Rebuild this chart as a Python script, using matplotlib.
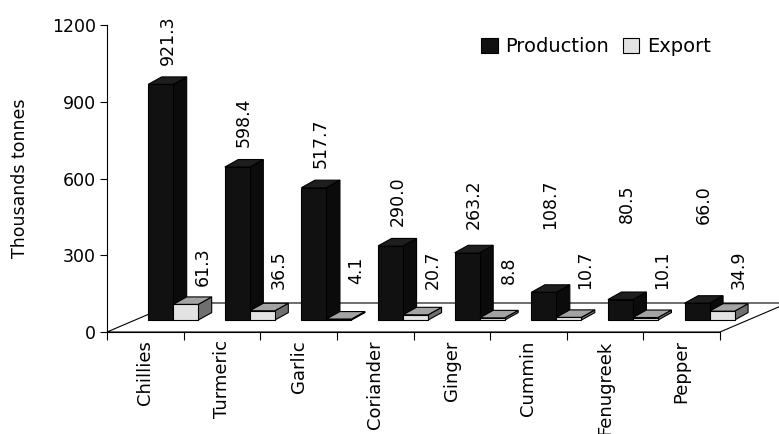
import matplotlib
matplotlib.use('Agg')
import matplotlib.pyplot as plt
from matplotlib.patches import Polygon, Patch

# --- data ---
categories = ["Chillies", "Turmeric", "Garlic", "Coriander",
              "Ginger", "Cummin", "Fenugreek", "Pepper"]
production = [921.3, 598.4, 517.7, 290.0, 263.2, 108.7, 80.5, 66.0]
export = [61.3, 36.5, 4.1, 20.7, 8.8, 10.7, 10.1, 34.9]
yticks = [0, 300, 600, 900, 1200]

# --- figure / axes geometry (pixels) ---
W, H = 779, 434
AX_L, AX_B, AX_W, AX_H = 107, 102, 613, 307
YMAX = 1200
NCAT = len(categories)
px_x = AX_W / NCAT          # pixels per category
px_y = AX_H / YMAX          # pixels per unit

# 3d look (pixels)
FLOOR_DX, FLOOR_DY = 68, 29
BAR_FRONT = 0.41            # fraction of floor depth where bars start
BAR_DX, BAR_DY = 13.5, 7.5
BAR_W = 25 / px_x           # bar width in category units

fdx, fdy = FLOOR_DX / px_x, FLOOR_DY / px_y
bdx, bdy = BAR_DX / px_x, BAR_DY / px_y
x_shift, y_base = BAR_FRONT * fdx, BAR_FRONT * fdy

styles = [
    # front, top, side, label floor, label offset (pt)
    dict(front="#111111", top="#1e1e1e", side="#0b0b0b", floor=280, off=(0, 26.5)),
    dict(front="#e3e3e3", top="#a3a3a3", side="#6f6f6f", floor=50, off=(7.2, 21.5)),
]

plt.rcParams['font.family'] = ['DejaVu Sans']
fig = plt.figure(figsize=(W / 100, H / 100), dpi=100)
ax = fig.add_axes([AX_L / W, AX_B / H, AX_W / W, AX_H / H])
ax.set_xlim(0, NCAT)
ax.set_ylim(0, YMAX)

# floor
floor = Polygon([(0, 0), (NCAT, 0), (NCAT + fdx, fdy), (fdx, fdy)],
                closed=True, facecolor="white", edgecolor="black",
                linewidth=0.8, clip_on=False, zorder=1)
ax.add_patch(floor)


def draw_bar(x0, v, st, z):
    y0, y1 = y_base, y_base + v
    front = [(x0, y0), (x0 + BAR_W, y0), (x0 + BAR_W, y1), (x0, y1)]
    top = [(x0, y1), (x0 + BAR_W, y1), (x0 + BAR_W + bdx, y1 + bdy), (x0 + bdx, y1 + bdy)]
    side = [(x0 + BAR_W, y0), (x0 + BAR_W + bdx, y0 + bdy),
            (x0 + BAR_W + bdx, y1 + bdy), (x0 + BAR_W, y1)]
    for pts, col in ((side, st["side"]), (top, st["top"]), (front, st["front"])):
        ax.add_patch(Polygon(pts, closed=True, facecolor=col, edgecolor="black",
                             linewidth=0.8, joinstyle="miter", clip_on=False, zorder=z))


z = 2
for i in range(NCAT):
    for j, vals in enumerate((production, export)):
        st = styles[j]
        x0 = i + 0.5 - BAR_W + j * BAR_W + x_shift
        draw_bar(x0, vals[i], st, z)
        z += 1
        lx = x0 + BAR_W / 2 + bdx / 2
        ly = y_base + bdy + max(vals[i], st["floor"])
        ax.annotate(f"{vals[i]:.1f}", xy=(lx, ly), xytext=st["off"],
                    textcoords="offset points", rotation=90,
                    ha="center", va="center", fontsize=12.5, zorder=50,
                    annotation_clip=False)

# axes styling
for s in ("top", "right"):
    ax.spines[s].set_visible(False)
for s in ("left", "bottom"):
    ax.spines[s].set_linewidth(0.8)
    ax.spines[s].set_zorder(40)
ax.set_facecolor("none")

ax.set_yticks(yticks)
ax.tick_params(axis="y", direction="out", length=5, width=0.8, pad=3, labelsize=12.5)

ax.set_xticks(range(NCAT + 1))
ax.set_xticklabels([])
ax.set_xticks([i + 0.5 for i in range(NCAT)], minor=True)
ax.set_xticklabels(categories, minor=True, rotation=90, fontsize=13)
ax.tick_params(axis="x", which="major", direction="out", length=6, width=0.8)
ax.tick_params(axis="x", which="minor", length=0, pad=6)

ax.set_ylabel("Thousands tonnes", fontsize=12.5)
ax.yaxis.set_label_coords(-0.127, 0.5)

handles = [Patch(facecolor=styles[0]["front"], edgecolor="black", linewidth=0.8),
           Patch(facecolor=styles[1]["front"], edgecolor="black", linewidth=0.8)]
fig.legend(handles, ["Production", "Export"], loc="center left",
           bbox_to_anchor=(481 / W, 1 - 46.5 / H), ncol=2, frameon=False,
           fontsize=14, handlelength=0.85, handleheight=0.85,
           handletextpad=0.4, columnspacing=0.7, borderpad=0, borderaxespad=0)

fig.savefig("out.png", dpi=100)
